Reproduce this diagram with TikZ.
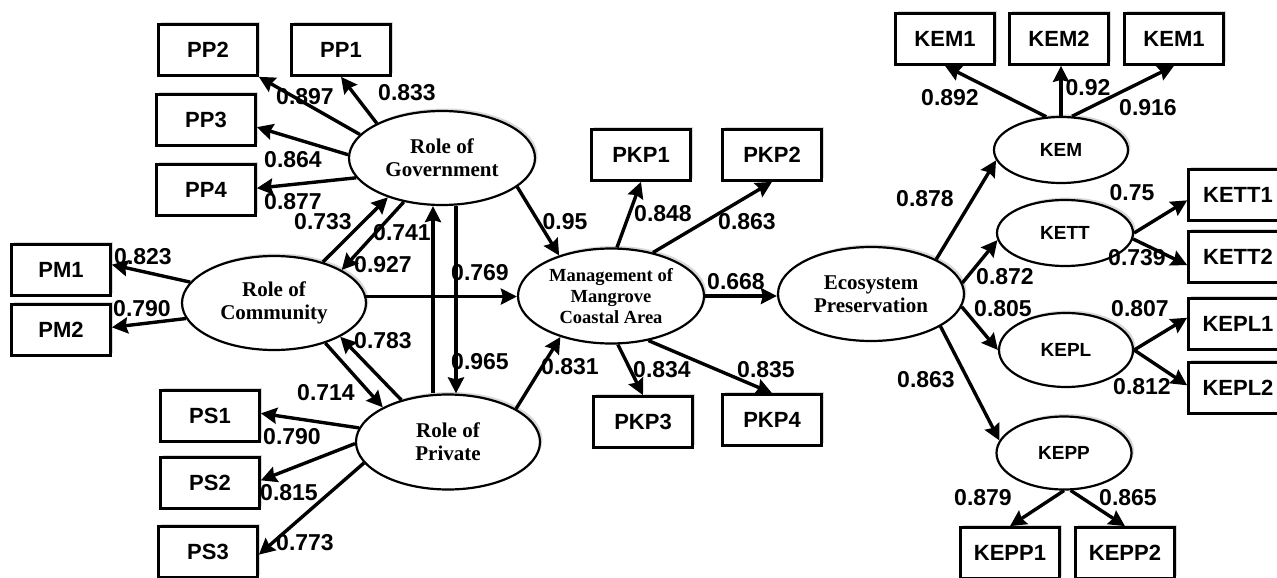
\documentclass[tikz,border=0pt]{standalone}
\usepackage{fontspec}
\setmainfont{Liberation Serif}
\newfontfamily\arialfont{Liberation Sans}
\usetikzlibrary{arrows.meta,shapes.geometric,shadows}

\newlength{\du}
\setlength{\du}{1pt}
\definecolor{dialinecolor}{rgb}{0.000000, 0.000000, 0.000000}

\tikzset{
  obsbox/.style={draw=dialinecolor, fill=white, line width=2.7\du, inner sep=0pt,
    minimum width=99\du, minimum height=51\du,
    font=\arialfont\bfseries\fontsize{22}{24}\selectfont,
    drop shadow={shadow xshift=2.5pt, shadow yshift=2.5pt, opacity=0.3}},
  latent/.style={ellipse, draw=dialinecolor, fill=white, line width=2.2\du, inner sep=0pt,
    align=center, font=\bfseries\fontsize{21}{23}\selectfont,
    drop shadow={shadow xshift=2.5pt, shadow yshift=2.5pt, opacity=0.3}},
  subfac/.style={latent, font=\arialfont\bfseries\fontsize{19}{21}\selectfont},
  arr/.style={draw=dialinecolor, line width=3.4\du, -{Stealth[length=16pt,width=16pt,inset=2pt]}},
  coef/.style={inner sep=0pt, font=\arialfont\bfseries\fontsize{23}{25}\selectfont},
}

\begin{document}
\begin{tikzpicture}
\pgftransformxscale{1.000000}
\pgftransformyscale{-1.000000}
\clip (0\du,0\du) rectangle (1277\du,578\du);

% indicator boxes
\node[obsbox] (pp2) at (208\du,50\du) {PP2};
\node[obsbox] (pp1) at (341\du,50\du) {PP1};
\node[obsbox] (pp3) at (206\du,120\du) {PP3};
\node[obsbox] (pp4) at (206\du,190\du) {PP4};
\node[obsbox] (pm1) at (61\du,270\du) {PM1};
\node[obsbox] (pm2) at (61\du,330\du) {PM2};
\node[obsbox] (ps1) at (210\du,416\du) {PS1};
\node[obsbox] (ps2) at (210\du,483\du) {PS2};
\node[obsbox] (ps3) at (208\du,552\du) {PS3};
\node[obsbox] (pkp1) at (641\du,155\du) {PKP1};
\node[obsbox] (pkp2) at (772\du,155\du) {PKP2};
\node[obsbox] (pkp3) at (643\du,422\du) {PKP3};
\node[obsbox] (pkp4) at (772\du,420\du) {PKP4};
\node[obsbox] (kem1) at (945\du,39\du) {KEM1};
\node[obsbox] (kem2) at (1059\du,39\du) {KEM2};
\node[obsbox] (kem3) at (1174\du,39\du) {KEM1};
\node[obsbox] (kett1) at (1238\du,195\du) {KETT1};
\node[obsbox] (kett2) at (1238\du,257\du) {KETT2};
\node[obsbox] (kepl1) at (1238\du,324\du) {KEPL1};
\node[obsbox] (kepl2) at (1238\du,388\du) {KEPL2};
\node[obsbox] (kepp1) at (1010\du,553\du) {KEPP1};
\node[obsbox] (kepp2) at (1125\du,553\du) {KEPP2};

% constructs
\node[latent, minimum width=186\du, minimum height=94\du] (gov) at (442\du,158\du) {Role of\\Government};
\node[latent, minimum width=184\du, minimum height=94\du] (comm) at (274\du,303\du) {Role of\\Community};
\node[latent, minimum width=184\du, minimum height=95\du] (priv) at (448\du,442\du) {Role of\\Private};
\node[latent, minimum width=186\du, minimum height=95\du, font=\bfseries\fontsize{18.5}{21}\selectfont] (mgmt) at (611\du,296\du) {Management of\\Mangrove\\Coastal Area};
\node[latent, minimum width=186\du, minimum height=94\du] (eco) at (871\du,294\du) {Ecosystem\\Preservation};
\node[subfac, minimum width=134\du, minimum height=66\du] (kem) at (1061\du,150\du) {KEM};
\node[subfac, minimum width=136\du, minimum height=66\du] (kett) at (1065\du,233\du) {KETT};
\node[subfac, minimum width=134\du, minimum height=74\du] (kepl) at (1066\du,350\du) {KEPL};
\node[subfac, minimum width=135\du, minimum height=73\du] (kepp) at (1064\du,453\du) {KEPP};

% paths
\draw[arr] (gov.164) -- (pp2.south east);
\draw[arr] (gov.152) -- (pp1.south);
\draw[arr] (gov.178) -- (pp3.352);
\draw[arr] (gov.193) -- (pp4.2);
\draw[arr] (comm.166) -- (pm1.6);
\draw[arr] (comm.190) -- (pm2.3);
\draw[arr] (comm.40) -- (gov.216);
\draw[arr] (gov.229) -- (comm.26);
\draw[arr] (comm.4) -- (comm.4 -| mgmt.west);
\draw[arr] (comm.322) -- (priv.152);
\draw[arr] (priv.138) -- (comm.333);
\draw[arr] ([xshift=-15pt]priv.north) -- ([xshift=-15pt]priv.north |- gov.south);
\draw[arr] ([xshift=14pt]gov.south) -- ([xshift=14pt]gov.south |- priv.north);
\draw[arr] (gov.339) -- (mgmt.142);
\draw[arr] (priv.26) -- (mgmt.219);
\draw[arr] (priv.171) -- (ps1.3);
\draw[arr] (priv.181) -- (ps2.3);
\draw[arr] (priv.194) -- (ps3.-3);
\draw[arr] (mgmt.83) -- (pkp1.south);
\draw[arr] (mgmt.46) -- (pkp2.south);
\draw[arr] (mgmt.278) -- (pkp3.north);
\draw[arr] (mgmt.310) -- (pkp4.north);
\draw[arr] (mgmt.east) -- (mgmt.east -| eco.west);
\draw[arr] (eco.28) -- (kem.189);
\draw[arr] (eco.7) -- (kett.186);
\draw[arr] (eco.352) -- (kepl.west);
\draw[arr] (eco.335) -- (kepp.169);
\draw[arr] (kem.114) -- (kem1.south);
\draw[arr] (kem.north) -- (kem.north |- kem2.south);
\draw[arr] (kem.72) -- (kem3.south);
\draw[arr] (kett.east) -- (kett1.186);
\draw[arr] (kett.-5) -- (kett2.189);
\draw[arr] (kepl.east) -- (kepl1.173);
\draw[arr] (kepl.east) -- (kepl2.177);
\draw[arr] (kepp.south) -- (kepp1.north);
\draw[arr] (kepp.-80) -- (kepp2.north);

% loadings and coefficients
\node[coef] (wpp2) at (305\du,97\du) {0.897};
\node[coef] (wpp1) at (407\du,93\du) {0.833};
\node[coef] (wpp3) at (293\du,160\du) {0.864};
\node[coef] (wpp4) at (293\du,202\du) {0.877};
\node[coef] (wcg) at (323\du,222\du) {0.733};
\node[coef] (wpg) at (402\du,233\du) {0.741};
\node[coef] (wgc) at (383\du,265\du) {0.927};
\node[coef] (wgp) at (480\du,273\du) {0.769};
\node[coef] (wpm1) at (143\du,257\du) {0.823};
\node[coef] (wpm2) at (142\du,309\du) {0.790};
\node[coef] (wpc) at (383\du,341\du) {0.783};
\node[coef] (wgp2) at (480\du,362\du) {0.965};
\node[coef] (wcp) at (326\du,393\du) {0.714};
\node[coef] (wps1) at (292\du,437\du) {0.790};
\node[coef] (wps2) at (289\du,493\du) {0.815};
\node[coef] (wps3) at (305\du,543\du) {0.773};
\node[coef] (wgm) at (565\du,222\du) {0.95};
\node[coef] (wpkp1) at (663\du,214\du) {0.848};
\node[coef] (wpkp2) at (747\du,222\du) {0.863};
\node[coef] (wme) at (736\du,282\du) {0.668};
\node[coef] (wpm) at (570\du,367\du) {0.831};
\node[coef] (wpkp3) at (662\du,370\du) {0.834};
\node[coef] (wpkp4) at (766\du,370\du) {0.835};
\node[coef] (wkem1) at (950\du,98\du) {0.892};
\node[coef] (wkem2) at (1088\du,88\du) {0.92};
\node[coef] (wkem3) at (1148\du,108\du) {0.916};
\node[coef] (wkem) at (925\du,199\du) {0.878};
\node[coef] (wkett1) at (1132\du,193\du) {0.75};
\node[coef] (wkett2) at (1137\du,258\du) {0.739};
\node[coef] (wkett) at (1005\du,277\du) {0.872};
\node[coef] (wkepl) at (1003\du,309\du) {0.805};
\node[coef] (wkepl1) at (1140\du,309\du) {0.807};
\node[coef] (wkepl2) at (1142\du,387\du) {0.812};
\node[coef] (wkepp) at (926\du,380\du) {0.863};
\node[coef] (wkepp1) at (983\du,498\du) {0.879};
\node[coef] (wkepp2) at (1128\du,498\du) {0.865};
\end{tikzpicture}
\end{document}
